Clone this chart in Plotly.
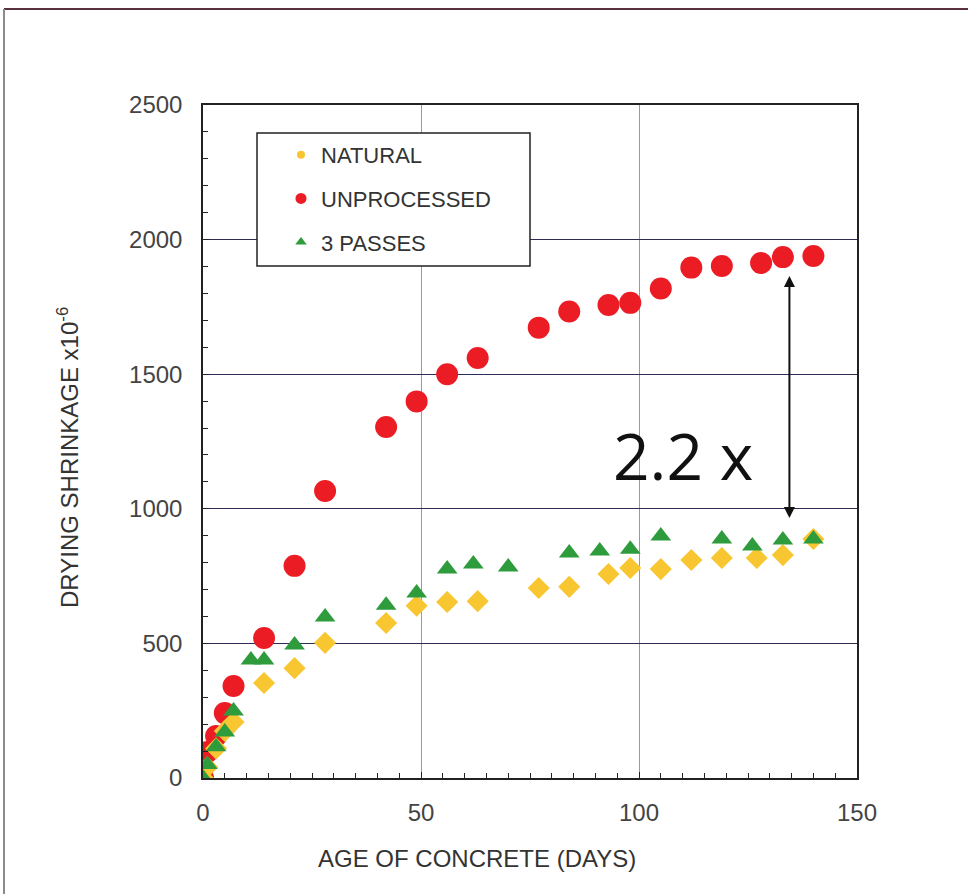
import plotly.graph_objects as go

# ---- data ----
nat_x = [0, 1, 3, 5, 7, 14, 21, 28, 42, 49, 56, 63, 77, 84, 93, 98, 105, 112, 119, 127, 133, 140]
nat_y = [0, 40, 110, 175, 208, 353, 408, 502, 576, 640, 654, 657, 706, 710, 758, 780, 776, 810, 817, 817, 828, 888]

unp_x = [0, 1, 3, 5, 7, 14, 21, 28, 42, 49, 56, 63, 77, 84, 93, 98, 105, 112, 119, 128, 133, 140]
unp_y = [0, 97, 156, 241, 342, 520, 788, 1066, 1304, 1399, 1500, 1560, 1673, 1733, 1757, 1765, 1818, 1896, 1902, 1913, 1935, 1939]

p3_x = [0, 1, 3, 5, 7, 11, 14, 21, 28, 42, 49, 56, 62, 70, 84, 91, 98, 105, 119, 126, 133, 140]
p3_y = [0, 50, 116, 171, 249, 438, 438, 494, 598, 642, 687, 776, 795, 784, 836, 843, 850, 899, 888, 862, 884, 888]

series_names = ["NATURAL", "UNPROCESSED", "3 PASSES"]
x_ticks = [0, 50, 100, 150]
y_ticks = [0, 500, 1000, 1500, 2000, 2500]

ratio_label = "2.2 x"
arrow_x = 134.5
arrow_top = 1865
arrow_bottom = 960

YELLOW = "#F8C630"
RED = "#EC1C24"
GREEN = "#2E9B3C"
FONT = "Liberation Sans, Arial, sans-serif"

# plot area in pixels
L, R, T, B = 203, 857, 105, 778
PW, PH = R - L, B - T


def px(xp):
    return (xp - L) / PW


def py(yp):
    return (B - yp) / PH


fig = go.Figure()

fig.add_trace(go.Scatter(x=unp_x, y=unp_y, mode="markers", showlegend=False,
                         marker=dict(symbol="circle", size=22, color=RED)))
fig.add_trace(go.Scatter(x=nat_x, y=nat_y, mode="markers", showlegend=False,
                         marker=dict(symbol="diamond", size=17, color=YELLOW)))
fig.add_trace(go.Scatter(x=p3_x, y=p3_y, mode="markers", showlegend=False,
                         marker=dict(symbol="triangle-up", size=18, color=GREEN)))

# legend entries (small markers as in the reference)
for name, sym, col, sz, grp in [(series_names[0], "circle", YELLOW, 8, "a"),
                                (series_names[1], "circle", RED, 11, "b"),
                                (series_names[2], "triangle-up", GREEN, 10, "c")]:
    fig.add_trace(go.Scatter(x=[None], y=[None], mode="markers", name=name, legendgroup=grp,
                             marker=dict(symbol=sym, size=sz, color=col)))

# legend box
fig.add_shape(type="rect", xref="paper", yref="paper",
              x0=px(257), x1=px(530), y0=py(266), y1=py(133),
              line=dict(color="#222222", width=1.5), fillcolor="white", layer="above")

# double-headed arrow
fig.add_annotation(x=arrow_x, y=arrow_top, ax=arrow_x, ay=arrow_bottom,
                   xref="x", yref="y", axref="x", ayref="y",
                   showarrow=True, arrowhead=2, arrowside="end+start",
                   arrowwidth=2, arrowsize=1.1, arrowcolor="#111111", text="")
fig.add_annotation(x=110, y=1198, xref="x", yref="y", text=ratio_label, showarrow=False,
                   font=dict(family="Open Sans, DejaVu Sans, sans-serif", size=64, color="#111111"))

# axis titles as annotations (offset as in reference)
fig.add_annotation(x=px(477), y=py(858), xref="paper", yref="paper",
                   xanchor="center", yanchor="middle",
                   text="AGE OF CONCRETE (DAYS)", showarrow=False,
                   font=dict(family=FONT, size=24, color="#333333"))
fig.add_annotation(x=px(68), y=py(458), xref="paper", yref="paper",
                   xanchor="center", yanchor="middle",
                   text="DRYING SHRINKAGE x10<sup>-6</sup>", showarrow=False, textangle=-90,
                   font=dict(family=FONT, size=24, color="#333333"))

# outer frame lines (top and left)
fig.add_shape(type="line", xref="paper", yref="paper",
              x0=px(4), x1=px(968), y0=py(9), y1=py(9),
              line=dict(color="#5a3040", width=2))
fig.add_shape(type="line", xref="paper", yref="paper",
              x0=px(4), x1=px(4), y0=py(9), y1=py(894),
              line=dict(color="#8a8a8a", width=2))

fig.update_layout(
    width=968, height=894,
    margin=dict(l=L, r=968 - R, t=T, b=894 - B),
    paper_bgcolor="white", plot_bgcolor="white",
    font=dict(family=FONT, color="#444444"),
    legend=dict(x=px(281), y=py(134), xanchor="left", yanchor="top",
                bgcolor="rgba(0,0,0,0)", borderwidth=0,
                font=dict(family=FONT, size=22, color="#333333"),
                tracegroupgap=12, itemwidth=30),
    xaxis=dict(range=[0, 150], tickvals=x_ticks, ticks="inside", ticklen=6, tickcolor="#222",
               showline=True, linecolor="#222222", linewidth=1.5, mirror=True,
               showgrid=True, gridcolor="#9a9a9a", gridwidth=1, zeroline=False,
               tickfont=dict(size=24, color="#444444"), ticklabelstandoff=12,
               minor=dict(dtick=5, ticks="inside", ticklen=5, tickcolor="#222", showgrid=False)),
    yaxis=dict(range=[0, 2500], tickvals=y_ticks, ticks="inside", ticklen=6, tickcolor="#222",
               showline=True, linecolor="#222222", linewidth=1.5, mirror=True,
               showgrid=True, gridcolor="#2c2c55", gridwidth=1, zeroline=False,
               tickfont=dict(size=24, color="#444444"), ticklabelstandoff=14,
               minor=dict(dtick=100, ticks="inside", ticklen=5, tickcolor="#222", showgrid=False)),
)

fig.write_html("out.html")
